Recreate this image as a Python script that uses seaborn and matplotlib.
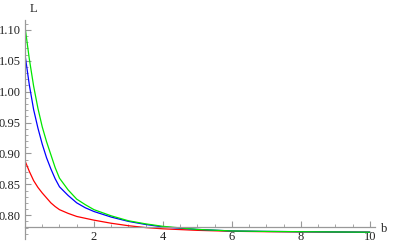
import numpy as np
import pandas as pd
import matplotlib
matplotlib.use("Agg")
import matplotlib.pyplot as plt
import seaborn as sns
from matplotlib.ticker import MultipleLocator, FormatStrFormatter

# values
b_vals = [0, 0.125, 0.25, 0.375, 0.5, 0.625, 0.75, 0.875, 1, 1.25, 1.5, 1.75,
          2, 2.5, 3, 3.5, 4, 5, 6, 7, 8, 9, 10]
red_L = [0.888, 0.871, 0.856, 0.845, 0.836, 0.828, 0.820, 0.814, 0.809, 0.803,
         0.798, 0.795, 0.792, 0.787, 0.783, 0.780, 0.778, 0.7755, 0.774, 0.7733,
         0.773, 0.7727, 0.7725]
blue_L = [1.060, 1.011, 0.971, 0.941, 0.915, 0.893, 0.875, 0.859, 0.846, 0.832,
          0.820, 0.812, 0.806, 0.797, 0.790, 0.785, 0.781, 0.777, 0.7745, 0.7738,
          0.7733, 0.7729, 0.7725]
green_L = [1.105, 1.053, 1.009, 0.973, 0.943, 0.919, 0.898, 0.877, 0.860, 0.841,
           0.826, 0.817, 0.809, 0.799, 0.791, 0.786, 0.782, 0.777, 0.7745, 0.7738,
           0.7733, 0.7729, 0.7725]

sns.set_style("white")
plt.rcParams['font.family'] = ['Liberation Serif', 'DejaVu Serif']

fig = plt.figure(figsize=(3.93, 2.46), dpi=100)
ax = fig.add_axes([25 / 393, 7 / 246, 350 / 393, 219 / 246])

for vals, col in [(red_L, "#ff0000"), (blue_L, "#0000ff"), (green_L, "#00e600")]:
    sns.lineplot(x=b_vals, y=vals, color=col, linewidth=0.9, ax=ax)

ax.set_xlim(0, 10.15)
ax.set_ylim(0.7615, 1.116)

axis_col = "#999999"
for side in ["top", "right"]:
    ax.spines[side].set_visible(False)
ax.spines["left"].set_position(("data", 0))
ax.spines["bottom"].set_position(("data", 0.7805))
for side in ["left", "bottom"]:
    ax.spines[side].set_color(axis_col)
    ax.spines[side].set_linewidth(0.9)

ax.set_xticks([2, 4, 6, 8, 10])
ax.xaxis.set_minor_locator(MultipleLocator(0.5))
ax.set_yticks([0.80, 0.85, 0.90, 0.95, 1.00, 1.05, 1.10])
ax.yaxis.set_major_formatter(FormatStrFormatter("%.2f"))
ax.yaxis.set_minor_locator(MultipleLocator(0.01))
ax.tick_params(which="major", direction="in", length=4, width=0.8, color=axis_col,
               labelsize=9, labelcolor="#222222", pad=3)
ax.tick_params(which="minor", direction="in", length=2, width=0.6, color=axis_col)
ax.tick_params(axis="x", bottom=True, which="both")
ax.tick_params(axis="y", left=True, which="both")

fig.text(30 / 393, 1 - 9 / 246, "L", fontsize=9, ha="left", va="center", color="#222222")
fig.text(384 / 393, 1 - 229 / 246, "b", fontsize=9, ha="center", va="center", color="#222222")

fig.savefig("out.png", dpi=100)
